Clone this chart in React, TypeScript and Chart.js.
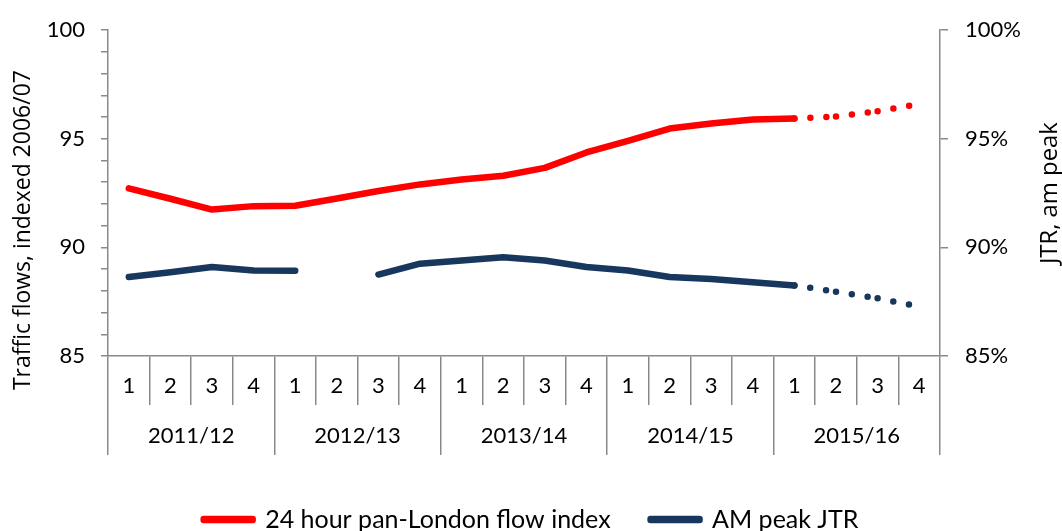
import React, { useEffect, useRef } from 'react';
import { Chart, registerables } from 'chart.js';

Chart.register(...registerables);

const quarterLabels = ['1', '2', '3', '4', '1', '2', '3', '4', '1', '2', '3', '4', '1', '2', '3', '4', '1', '2', '3', '4'];
const yearLabels = ['2011/12', '2012/13', '2013/14', '2014/15', '2015/16'];
const flowIndex = [92.72, 92.24, 91.74, 91.9, 91.92, 92.25, 92.6, 92.9, 93.13, 93.3, 93.66, 94.37, 94.91, 95.47, 95.7, 95.89, 95.94, 96.03, 96.27, 96.6];
const amPeakJtr = [88.64, 88.86, 89.1, 88.94, 88.93, null, 88.75, 89.25, 89.4, 89.55, 89.4, 89.1, 88.94, 88.64, 88.54, 88.4, 88.25, 87.96, 87.66, 87.27];
const forecastFromIndex = 16;
const flowLabel = '24 hour pan-London flow index';
const jtrLabel = 'AM peak JTR';
const leftTitle = 'Traffic flows, indexed 2006/07';
const rightTitle = 'JTR, am peak';
const leftTicks = { min: 85, max: 100, step: 1, major: 5 };
const rightTicks = { min: 85, max: 100, step: 5 };

const RED = '#FF0000';
const NAVY = '#17375E';
const GREY = '#898989';
const TICK_FONT = { family: 'Lato', size: 22 };
const LEGEND_FONT = { family: 'Lato', size: 25 };
const TITLE_FAMILY = '"Open Sans"';

function drawVerticalTitle(ctx: any, text: string, cx: number, cy: number, targetLen: number) {
  ctx.save();
  ctx.font = `20px ${TITLE_FAMILY}`;
  const w = ctx.measureText(text).width || 1;
  const size = Math.max(14, Math.min(28, (20 * targetLen) / w));
  ctx.font = `${size.toFixed(2)}px ${TITLE_FAMILY}`;
  ctx.fillStyle = '#000';
  ctx.textAlign = 'center';
  ctx.textBaseline = 'middle';
  ctx.translate(cx, cy);
  ctx.rotate(-Math.PI / 2);
  ctx.fillText(text, 0, 0);
  ctx.restore();
}

const titlesPlugin = {
  id: 'axisTitles',
  afterDraw(chart: any) {
    const ctx = chart.ctx;
    const yl = chart.scales.y;
    const yr = chart.scales.y1;
    drawVerticalTitle(ctx, leftTitle, yl.left + 23, (yl.top + yl.bottom) / 2 + 37, 320);
    drawVerticalTitle(ctx, rightTitle, yr.right - 12, (yr.top + yr.bottom) / 2, 142);
  },
};

export default function App() {
  const ref = useRef<HTMLCanvasElement | null>(null);

  useEffect(() => {
    if (!ref.current) return;
    // Forecast quarters are drawn as round dots; the dot pattern restarts at every point (as in Excel).
    const dotted = (ctx: any) => (ctx.p0DataIndex >= forecastFromIndex ? [0, 16] : undefined);
    const dotOffset = (ctx: any) => (ctx.p0DataIndex >= forecastFromIndex ? (ctx.p0DataIndex % 2 ? 16 : 32) : 0);
    const segment = { borderDash: dotted, borderDashOffset: dotOffset };
    const chart = new Chart(ref.current, {
      type: 'line',
      data: {
        labels: quarterLabels,
        datasets: [
          {
            label: flowLabel,
            data: flowIndex,
            borderColor: RED,
            backgroundColor: RED,
            borderWidth: 6.5,
            borderCapStyle: 'round',
            borderJoinStyle: 'round',
            pointRadius: 0,
            tension: 0,
            yAxisID: 'y',
            segment,
          },
          {
            label: jtrLabel,
            data: amPeakJtr,
            borderColor: NAVY,
            backgroundColor: NAVY,
            borderWidth: 6.5,
            borderCapStyle: 'round',
            borderJoinStyle: 'round',
            pointRadius: 0,
            tension: 0,
            spanGaps: false,
            yAxisID: 'y1',
            segment,
          },
        ],
      },
      options: {
        responsive: false,
        animation: false,
        devicePixelRatio: 1,
        layout: { padding: { top: 25, left: 0, right: 0, bottom: -11 } },
        plugins: {
          tooltip: { enabled: false },
          legend: {
            position: 'bottom',
            labels: {
              font: LEGEND_FONT,
              color: '#000',
              boxWidth: 49,
              boxHeight: 1,
              padding: 40,
            },
          },
        },
        scales: {
          x: {
            type: 'category',
            position: 'bottom',
            weight: 0,
            offset: true,
            grid: { drawOnChartArea: false, drawTicks: true, tickLength: 49, color: GREY, lineWidth: 1.5, offset: true },
            border: { display: true, color: GREY, width: 1.5 },
            ticks: { font: TICK_FONT, color: '#000', padding: -32, autoSkip: false, maxRotation: 0 },
            afterFit: (s: any) => { s.height = 49; },
          },
          x2: {
            type: 'category',
            position: 'bottom',
            weight: 1,
            labels: yearLabels,
            offset: true,
            grid: { drawOnChartArea: false, drawTicks: true, tickLength: 50, color: GREY, lineWidth: 1.5, offset: true },
            border: { display: false },
            ticks: { font: TICK_FONT, color: '#000', padding: -32, autoSkip: false, maxRotation: 0 },
            afterFit: (s: any) => { s.height = 62; },
          },
          y: {
            type: 'linear',
            position: 'left',
            min: leftTicks.min,
            max: leftTicks.max,
            grid: { drawOnChartArea: false, drawTicks: true, tickLength: 7, color: GREY, lineWidth: 1.5 },
            border: { display: true, color: GREY, width: 1.5 },
            ticks: {
              stepSize: leftTicks.step,
              autoSkip: false,
              font: TICK_FONT,
              color: '#000',
              padding: 16,
              callback: (v: any) => (Number(v) % leftTicks.major === 0 ? String(v) : ''),
            },
            afterFit: (s: any) => { s.width = 108; },
          },
          y1: {
            type: 'linear',
            position: 'right',
            min: rightTicks.min,
            max: rightTicks.max,
            grid: { drawOnChartArea: false, drawTicks: true, tickLength: 8, color: GREY, lineWidth: 1.5 },
            border: { display: true, color: GREY, width: 1.5 },
            ticks: {
              stepSize: rightTicks.step,
              autoSkip: false,
              font: TICK_FONT,
              color: '#000',
              padding: 17,
              callback: (v: any) => `${v}%`,
            },
            afterFit: (s: any) => { s.width = 122; },
          },
        },
      } as any,
      plugins: [titlesPlugin],
    });
    return () => chart.destroy();
  }, []);

  return (
    <div style={{ position: 'fixed', left: 0, top: 0, width: 1062, height: 531, background: '#fff' }}>
      <canvas ref={ref} width={1062} height={531} style={{ display: 'block' }} />
    </div>
  );
}
